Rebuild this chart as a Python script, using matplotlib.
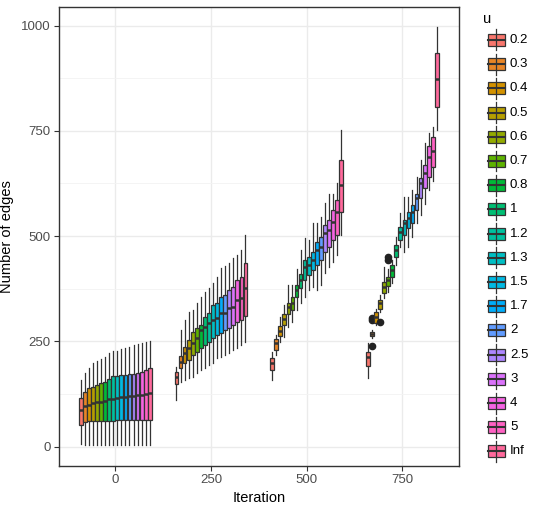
import numpy as np
import matplotlib
matplotlib.use("Agg")
import matplotlib.pyplot as plt
from matplotlib.patches import Rectangle

plt.rcParams['font.family'] = ['Liberation Sans', 'DejaVu Sans']

# ---------------- data ----------------
u_levels = ["0.2", "0.3", "0.4", "0.5", "0.6", "0.7", "0.8", "1", "1.2", "1.3",
            "1.5", "1.7", "2", "2.5", "3", "4", "5", "Inf"]
iterations = [0, 250, 500, 750]

# iteration 0
it0_lo  = [6, 5, 5, 5, 5, 5, 5, 5, 5, 5, 5, 5, 5, 5, 5, 5, 5, 5]
it0_q1  = [52, 58, 60, 60, 61, 61, 62, 62, 62, 63, 63, 63, 63, 63, 63, 63, 63, 63]
it0_med = [87, 96, 100, 103, 105, 106, 108, 112, 114, 116, 117, 118, 120, 121, 122, 123, 124, 127]
it0_q3  = [116, 130, 140, 142, 146, 150, 154, 160, 168, 168, 170, 171, 172, 173, 175, 177, 181, 187]
it0_hi  = [158, 174, 186, 199, 203, 207, 214, 222, 226, 228, 231, 234, 237, 241, 244, 245, 249, 251]

# iteration 250
it250_lo  = [111, 154, 158, 162, 166, 175, 182, 186, 194, 198, 210, 214, 218, 222, 230, 234, 241, 249]
it250_q1  = [149, 186, 198, 206, 218, 225, 234, 241, 249, 257, 265, 269, 277, 281, 289, 297, 301, 310]
it250_med = [166, 202, 222, 234, 245, 257, 277, 285, 293, 301, 305, 317, 317, 329, 332, 348, 352, 376]
it250_q3  = [178, 215, 237, 253, 273, 281, 289, 309, 317, 336, 340, 356, 360, 372, 380, 396, 404, 437]
it250_hi  = [190, 277, 301, 320, 324, 340, 356, 368, 376, 388, 404, 424, 430, 435, 447, 455, 467, 502]

# iteration 500
it500_lo  = [158, 218, 249, 261, 285, 297, 324, 340, 356, 372, 380, 372, 384, 412, 427, 439, 455, 502]
it500_q1  = [182, 229, 263, 289, 315, 324, 356, 376, 396, 408, 419, 431, 443, 463, 475, 491, 502, 556]
it500_med = [199, 245, 275, 303, 331, 342, 372, 396, 427, 431, 443, 467, 475, 507, 514, 534, 558, 621]
it500_q3  = [211, 255, 286, 315, 342, 355, 384, 410, 443, 450, 463, 487, 498, 526, 538, 562, 586, 680]
it500_hi  = [225, 265, 309, 336, 384, 384, 423, 467, 495, 491, 530, 530, 546, 578, 601, 601, 625, 751]

# iteration 750
it750_lo  = [162, 257, 289, 320, 352, 368, 388, 431, 475, 463, 475, 498, 530, 550, 575, 610, 630, 751]
it750_q1  = [192, 263, 294, 328, 364, 381, 402, 450, 491, 502, 518, 530, 562, 590, 613, 641, 665, 806]
it750_med = [212, 267, 309, 340, 380, 396, 419, 467, 510, 530, 542, 558, 590, 625, 649, 688, 703, 873]
it750_q3  = [225, 273, 320, 348, 392, 403, 431, 479, 522, 538, 558, 574, 601, 637, 669, 714, 736, 934]
it750_hi  = [245, 277, 328, 360, 427, 423, 443, 498, 554, 593, 593, 610, 640, 680, 720, 745, 760, 996]

# outliers (iteration 750)
out_u     = ["0.3", "0.3", "0.3", "0.5", "0.7", "0.7"]
out_value = [239, 300, 306, 297, 451, 443]

# ---------------- colours (ggplot hue palette) ----------------
def hcl_hex(h, c=100.0, l=65.0):
    hr = np.deg2rad(h)
    U, V = c * np.cos(hr), c * np.sin(hr)
    Y = ((l + 16) / 116) ** 3
    Xn, Yn, Zn = 0.95047, 1.0, 1.08883
    den = Xn + 15 * Yn + 3 * Zn
    un, vn = 4 * Xn / den, 9 * Yn / den
    up = U / (13 * l) + un
    vp = V / (13 * l) + vn
    X = 9 * Y * up / (4 * vp)
    Z = -X / 3 - 5 * Y + 3 * Y / vp
    r = 3.240479 * X - 1.537150 * Y - 0.498535 * Z
    g = -0.969256 * X + 1.875992 * Y + 0.041556 * Z
    b = 0.055648 * X - 0.204043 * Y + 1.057311 * Z
    out = []
    for ch in (r, g, b):
        ch = 12.92 * ch if ch <= 0.0031308 else 1.055 * ch ** (1 / 2.4) - 0.055
        out.append(min(max(ch, 0), 1))
    return tuple(out)

n = len(u_levels)
hues = np.linspace(15, 375, n + 1)[:n]
colors = [hcl_hex(h) for h in hues]

# ---------------- figure ----------------
W, H = 534, 511
fig = plt.figure(figsize=(W / 100, H / 100), dpi=100)
ax = fig.add_axes([59 / W, 1 - 466 / H, (459 - 59) / W, (466 - 7) / H])

edge = '#333333'
slot = 10.6
bw = slot * 0.92

groups = [
    (iterations[0], it0_lo, it0_q1, it0_med, it0_q3, it0_hi),
    (iterations[1], it250_lo, it250_q1, it250_med, it250_q3, it250_hi),
    (iterations[2], it500_lo, it500_q1, it500_med, it500_q3, it500_hi),
    (iterations[3], it750_lo, it750_q1, it750_med, it750_q3, it750_hi),
]

for gi, (it, lo, q1, med, q3, hi) in enumerate(groups):
    stats, pos = [], []
    for i in range(n):
        fl = []
        if gi == 3:
            fl = [v for uu, v in zip(out_u, out_value) if uu == u_levels[i]]
        stats.append(dict(whislo=lo[i], q1=q1[i], med=med[i], q3=q3[i],
                          whishi=hi[i], fliers=fl))
        pos.append(it + (i - (n - 1) / 2) * slot)
    bp = ax.bxp(stats, positions=pos, widths=bw, patch_artist=True,
                showcaps=False, manage_ticks=False,
                boxprops=dict(edgecolor=edge, linewidth=0.9),
                whiskerprops=dict(color=edge, linewidth=0.9),
                medianprops=dict(color=edge, linewidth=1.8),
                flierprops=dict(marker='o', markerfacecolor='#222222',
                                markeredgecolor='#222222', markersize=4.5))
    for patch, c in zip(bp['boxes'], colors):
        patch.set_facecolor(c)
        patch.set_zorder(3)
    for k in ('whiskers', 'medians', 'fliers'):
        for a in bp[k]:
            a.set_zorder(3)

ax.set_xlim(-147, 898)
ax.set_ylim(-46, 1044)
ax.set_xticks(iterations)
ax.set_yticks([0, 250, 500, 750, 1000])
ax.set_yticks([125, 375, 625, 875], minor=True)
ax.grid(True, which='major', color='#EBEBEB', linewidth=1.0, zorder=0)
ax.grid(True, which='minor', axis='y', color='#F3F3F3', linewidth=0.6, zorder=0)
ax.set_axisbelow(True)
for s in ax.spines.values():
    s.set_color('#333333')
    s.set_linewidth(1.0)
ax.tick_params(axis='both', which='major', length=3.5, width=0.8, color='#333333',
               labelsize=9.5, labelcolor='#4D4D4D', pad=2.5)
ax.tick_params(axis='both', which='minor', length=0)
ax.set_xlabel('Iteration', fontsize=10.5, color='black', labelpad=3)
ax.set_ylabel('Number of edges', fontsize=10.5, color='black', labelpad=5)

# ---------------- legend ----------------
fig.text(483 / W, 1 - 19 / H, 'u', fontsize=10.5, ha='left', va='center')
y0, dy = 40, 24.2
for i, lab in enumerate(u_levels):
    yc = y0 + i * dy
    kx0, kx1 = 487.5, 504.5
    ky0, ky1 = yc - 6, yc + 6
    fig.add_artist(plt.Line2D([(kx0 + kx1) / 2 / W] * 2,
                              [1 - (yc - 10.5) / H, 1 - (yc + 10.5) / H],
                              color=edge, linewidth=0.9, transform=fig.transFigure))
    fig.add_artist(Rectangle((kx0 / W, 1 - ky1 / H), (kx1 - kx0) / W, (ky1 - ky0) / H,
                             facecolor=colors[i], edgecolor=edge, linewidth=0.9,
                             transform=fig.transFigure))
    fig.add_artist(plt.Line2D([kx0 / W, kx1 / W], [1 - yc / H] * 2,
                              color=edge, linewidth=1.5, transform=fig.transFigure))
    fig.text(510 / W, 1 - yc / H, lab, fontsize=9.5, ha='left', va='center', color='black')

fig.savefig('out.png', dpi=100)
